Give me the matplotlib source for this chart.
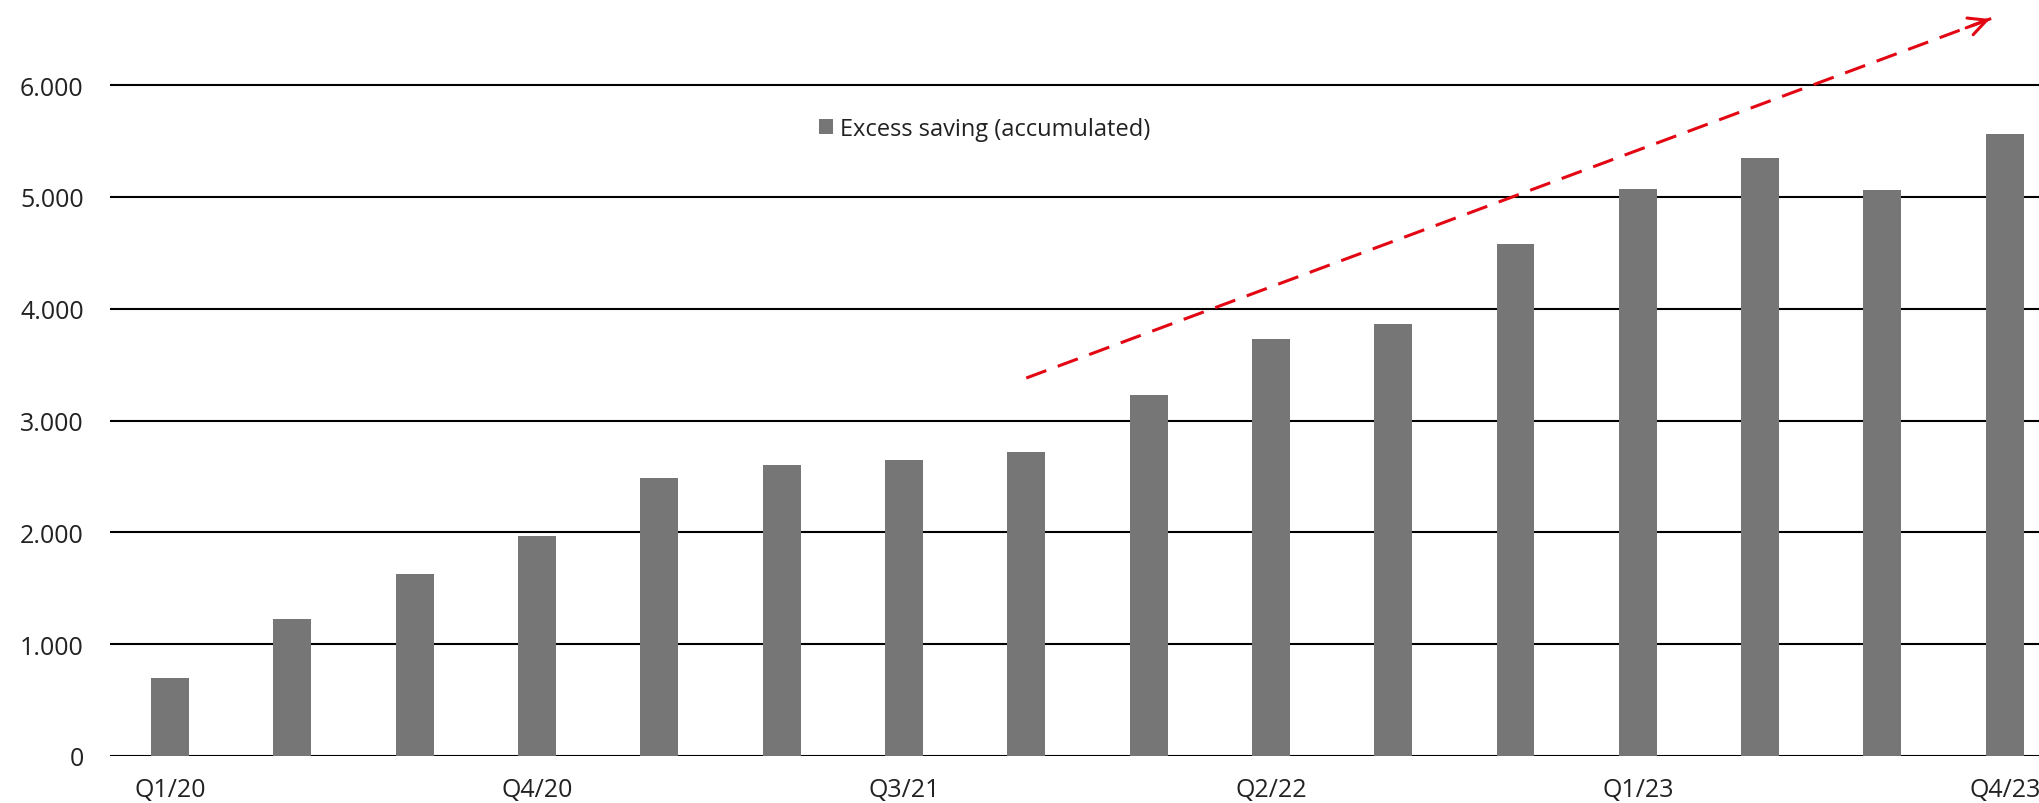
import matplotlib.pyplot as plt
import numpy as np

# data
quarters = ['Q1/20', 'Q2/20', 'Q3/20', 'Q4/20', 'Q1/21', 'Q2/21', 'Q3/21', 'Q4/21',
            'Q1/22', 'Q2/22', 'Q3/22', 'Q4/22', 'Q1/23', 'Q2/23', 'Q3/23', 'Q4/23']
excess_saving = [700, 1225, 1630, 1965, 2490, 2605, 2650, 2720,
                 3225, 3730, 3860, 4580, 5070, 5350, 5060, 5565]
shown_ticks = ['Q1/20', 'Q4/20', 'Q3/21', 'Q2/22', 'Q1/23', 'Q4/23']
y_ticks = [0, 1000, 2000, 3000, 4000, 5000, 6000]
y_labels = ['0', '1.000', '2.000', '3.000', '4.000', '5.000', '6.000']
trend_start = (7.0, 3380)
trend_end = (14.9, 6600)

plt.rcParams['font.family'] = ['Open Sans', 'DejaVu Sans']

fig = plt.figure(figsize=(20.39, 8.04), dpi=100)
ax = fig.add_axes([0.054, 0.0585, 0.946, 0.9415])

x = np.arange(len(quarters))
ax.bar(x, excess_saving, width=0.31, color='#767676', zorder=3,
       label='Excess saving (accumulated)')

# horizontal grid
for v in y_ticks:
    ax.axhline(v, color='black', lw=1.5, zorder=2)

ax.set_xlim(-0.49, 15.28)
ax.set_ylim(0, 6770)
ax.set_yticks(y_ticks)
ax.set_yticklabels(y_labels)
ax.set_xticks([quarters.index(q) for q in shown_ticks])
ax.set_xticklabels(shown_ticks)
ax.tick_params(axis='both', length=0, labelsize=18, colors='#222222')
ax.tick_params(axis='y', pad=19)
ax.tick_params(axis='x', pad=15)
for s in ax.spines.values():
    s.set_visible(False)

# dashed trend arrow
ax.plot([trend_start[0], trend_end[0]], [trend_start[1], trend_end[1]],
        color='#e30613', lw=2.2, dashes=(7, 4), clip_on=False, zorder=4)
dx = trend_end[0] - trend_start[0]
dy = trend_end[1] - trend_start[1]
ax.annotate('', xy=trend_end, xytext=(trend_end[0] - dx * 0.03, trend_end[1] - dy * 0.03),
            arrowprops=dict(arrowstyle='->', color='#e30613', lw=2.2, mutation_scale=32),
            annotation_clip=False, zorder=4)

ax.legend(loc='center left', bbox_to_anchor=(0.396, 0.838), bbox_transform=fig.transFigure,
          frameon=False, fontsize=17, handlelength=0.6, handleheight=0.6,
          handletextpad=0.3, borderpad=0, labelcolor='#222222')

fig.savefig('out.png', dpi=100)
